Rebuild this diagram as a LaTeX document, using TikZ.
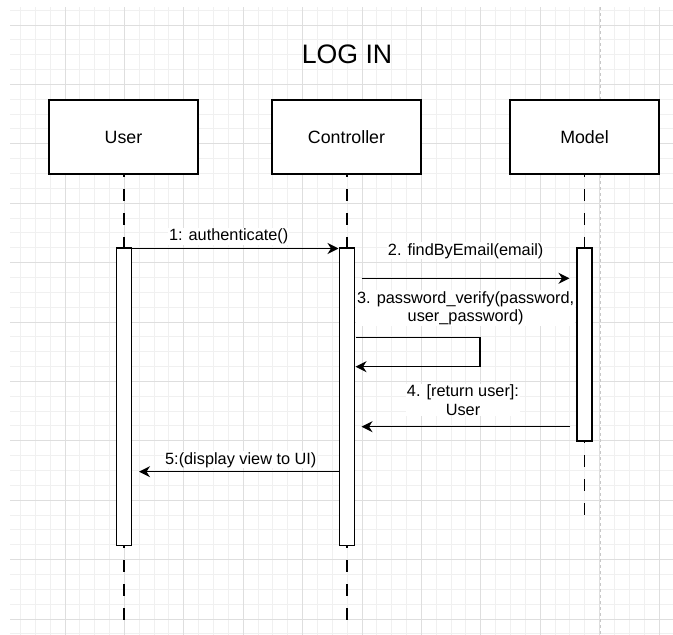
\documentclass[tikz,border=0pt]{standalone}
\usepackage{fontspec}
\setmainfont{Liberation Sans}
\usetikzlibrary{arrows.meta}
\definecolor{gminor}{HTML}{F0F0F0}
\definecolor{gmajor}{HTML}{DEDEDE}
\definecolor{pagebrk}{HTML}{C8C8C8}
\begin{document}
\begin{tikzpicture}[x=1pt,y=-1pt,
  box/.style={draw=black,line width=1.5pt,fill=white,minimum width=149pt,minimum height=74pt,inner sep=0pt,font=\fontsize{17.8}{21}\selectfont},
  actbox/.style={draw=black,line width=1.5pt,fill=white,minimum width=15pt,inner sep=0pt},
  life/.style={draw=black,line width=1.5pt,dash pattern=on 12pt off 12pt},
  msg/.style={draw=black,line width=1.5pt,-{Stealth[length=11pt,width=11pt,inset=3.5pt]}},
  lbl/.style={fill=white,inner sep=1pt,align=center,font=\fontsize{16.3}{18.4}\selectfont},
]
\useasboundingbox (0,0) rectangle (673,635);
\fill[white] (0,0) rectangle (673,635);
% grid
\begin{scope}
\clip (10,7) rectangle (673,635);
\foreach \i in {-3,...,41} {
  \draw[gminor,line width=1pt] ({65+14.85*\i},7) -- ({65+14.85*\i},635);
  \draw[gminor,line width=1pt] (10,{25+14.85*\i}) -- (673,{25+14.85*\i});
}
\foreach \i in {-1,...,10} {
  \draw[gmajor,line width=1pt] ({65+59.4*\i},7) -- ({65+59.4*\i},635);
  \draw[gmajor,line width=1pt] (10,{25+59.4*\i}) -- (673,{25+59.4*\i});
}
\draw[pagebrk,line width=1pt,dash pattern=on 3pt off 3pt] (600,7) -- (600,635);
\end{scope}

% title
\node[font=\fontsize{26.7}{32}\selectfont] (title) at (347,54.5) {LOG IN};

% lifeline heads
\node[box] (user) at (123.5,137) {User};
\node[box] (ctrl) at (346.5,137) {Controller};
\node[box] (model) at (584.5,137) {Model};

% lifeline end points
\coordinate (uend) at (124,620);
\coordinate (cend) at (347,620);
\coordinate (mend) at (584.7,516);

% activation bars (positions)
\coordinate (uactc) at (124,396.75);
\coordinate (cactc) at (347,396.75);
\coordinate (mactc) at (584.7,344.5);

% lifelines (upper parts)
\draw[life,dash phase=10pt] (user.south -| uactc) -- (124,248);
\draw[life,dash phase=10pt] (ctrl.south -| cactc) -- (347,248);
\draw[life,dash phase=10pt] (model.south -| mactc) -- (584.7,248);
% lifelines (lower parts)
\draw[life,dash phase=9.5pt] (124,545.5) -- (uend);
\draw[life,dash phase=9.5pt] (347,545.5) -- (cend);
\draw[life,dash phase=10pt] (584.7,441) -- (mend);

\node[actbox,minimum height=297.5pt] (uact) at (uactc) {};
\node[actbox,minimum height=297.5pt] (cact) at (cactc) {};
\node[actbox,minimum height=193pt] (mact) at (mactc) {};

% message end points
\coordinate (m1s) at (132,248.5);
\coordinate (m1e) at (338.5,248.5);
\coordinate (m2s) at (361.5,278.3);
\coordinate (m2e) at (569.5,278.3);
\coordinate (m3s) at (355.5,337.3);
\coordinate (m3a) at (480,337.3);
\coordinate (m3b) at (480,366.7);
\coordinate (m3e) at (355.5,366.7);
\coordinate (m4s) at (570,426.7);
\coordinate (m4e) at (361.5,426.7);
\coordinate (m5s) at (339,471.7);
\coordinate (m5e) at (139,471.7);

% messages
\draw[msg] (m1s) -- (m1e);
\draw[msg] (m2s) -- (m2e);
\draw[msg] (m3s) -- (m3a) -- (m3b) -- (m3e);
\draw[msg] (m4s) -- (m4e);
\draw[msg] (m5s) -- (m5e);

% labels
\node[lbl,anchor=base] (l1) at (228.7,240.7) {1: authenticate()};
\node[lbl,anchor=base] (l2) at (465.7,255) {2. findByEmail(email)};
\node[lbl] (l3) at (465.7,308) {3. password\_verify(password,\\user\_password)};
\node[lbl] (l4) at (463,400) {4. [return user]:\\User};
\node[lbl,anchor=base] (l5) at (240.8,464) {5:(display view to UI)};
\end{tikzpicture}
\end{document}
